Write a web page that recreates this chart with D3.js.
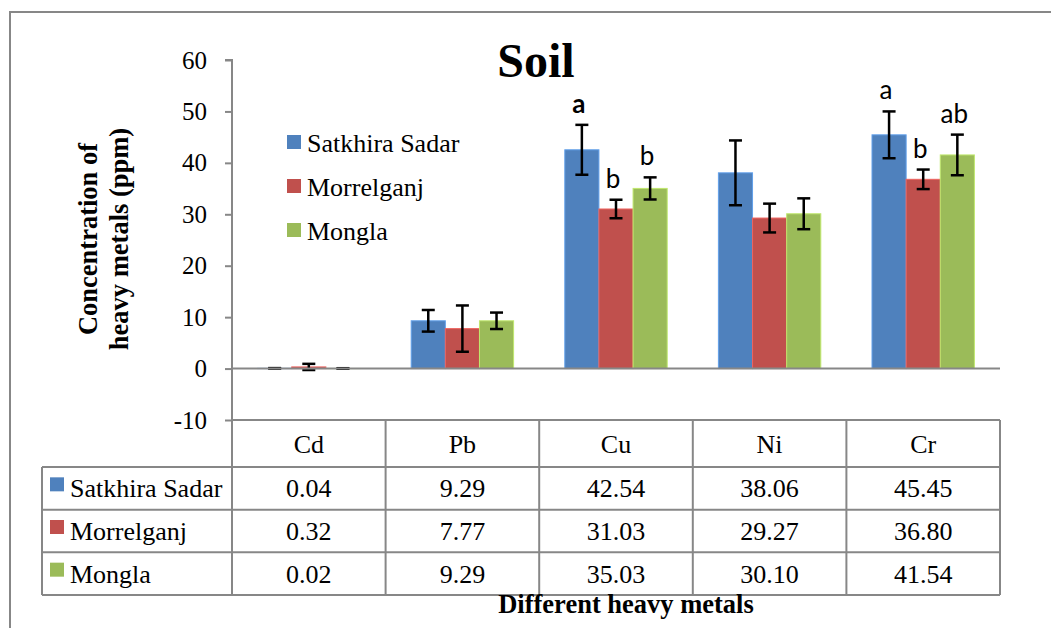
<!DOCTYPE html>
<html>
<head>
<meta charset="utf-8">
<script src="https://cdn.jsdelivr.net/npm/d3@7"></script>
<style>
  body { margin: 0; background: #fff; }
  svg { display: block; }
  .serif { font-family: "Liberation Serif", "Times New Roman", Times, serif; fill: #000; }
  .letter { font-family: Lato, "Open Sans", sans-serif; font-size: 26px; fill: #000; }
</style>
</head>
<body>
<div id="chart"></div>
<script>
// chart data
const metals = ["Cd", "Pb", "Cu", "Ni", "Cr"];
const sites = ["Satkhira Sadar", "Morrelganj", "Mongla"];
const siteColors = ["#4F81BD", "#C0504D", "#9BBB59"];

const satkhira = [0.04, 9.29, 42.54, 38.06, 45.45];
const morrelganj = [0.32, 7.77, 31.03, 29.27, 36.80];
const mongla = [0.02, 9.29, 35.03, 30.10, 41.54];

// error bar half-lengths
const satkhiraErr = [0.05, 2.1, 4.85, 6.3, 4.55];
const morrelganjErr = [0.6, 4.5, 1.8, 2.8, 1.9];
const monglaErr = [0.05, 1.6, 2.15, 3.0, 3.95];

// significance letters
const satkhiraLetters = ["", "", "a", "", "a"];
const morrelganjLetters = ["", "", "b", "", "b"];
const monglaLetters = ["", "", "b", "", "ab"];
const boldLetters = ["Cu-Satkhira Sadar"];

const yTicks = [-10, 0, 10, 20, 30, 40, 50, 60];

const values = [satkhira, morrelganj, mongla];
const errors = [satkhiraErr, morrelganjErr, monglaErr];
const letters = [satkhiraLetters, morrelganjLetters, monglaLetters];

const W = 1051, H = 628;
const gray = "#878787";

const svg = d3.select("#chart").append("svg")
    .attr("width", W)
    .attr("height", H);

// outer frame
svg.append("rect")
    .attr("x", 10).attr("y", 12)
    .attr("width", W + 20).attr("height", H + 20)
    .attr("fill", "none")
    .attr("stroke", gray)
    .attr("stroke-width", 2);

// scales
const x = d3.scaleBand()
    .domain(metals)
    .range([232, 1000]);

const xs = d3.scaleBand()
    .domain(sites)
    .range([x.bandwidth() / 6, x.bandwidth() * 5 / 6]);

const y = d3.scaleLinear()
    .domain([-10, 60])
    .range([420, 60]);

const color = d3.scaleOrdinal().domain(sites).range(siteColors);

// title
svg.append("text")
    .attr("class", "serif")
    .attr("x", 536)
    .attr("y", 77)
    .attr("text-anchor", "middle")
    .style("font-size", "48px")
    .style("font-weight", "bold")
    .text("Soil");

// y axis
const yAxis = d3.axisLeft(y)
    .tickValues(yTicks)
    .tickSize(7)
    .tickPadding(18)
    .tickFormat(d => String(d));

const gy = svg.append("g")
    .attr("transform", "translate(232,0)")
    .call(yAxis)
    .attr("font-family", null)
    .attr("font-size", null);
gy.select(".domain").attr("stroke", gray).attr("stroke-width", 2)
    .attr("d", `M-7,${y(60)}H0V${y(-10)}`);
gy.selectAll(".tick line").attr("stroke", gray).attr("stroke-width", 2);
gy.selectAll(".tick text")
    .attr("class", "serif")
    .style("font-size", "25px")
    .attr("fill", "#000");

// y axis title
const yTitle = svg.append("text")
    .attr("class", "serif")
    .attr("transform", "translate(0,239) rotate(-90)")
    .attr("text-anchor", "middle")
    .style("font-size", "26.5px")
    .style("font-weight", "bold");
yTitle.append("tspan").attr("x", 0).attr("y", 97).text("Concentration of");
yTitle.append("tspan").attr("x", 0).attr("y", 128).text("heavy metals (ppm)");

// bars
const rows = [];
metals.forEach((m, i) => {
    sites.forEach((s, j) => {
        rows.push({
            metal: m,
            site: s,
            value: values[j][i],
            err: errors[j][i],
            letter: letters[j][i]
        });
    });
});

const groups = svg.append("g");

groups.selectAll(".bar")
    .data(rows)
    .join("rect")
    .attr("class", "bar")
    .attr("x", d => x(d.metal) + xs(d.site))
    .attr("width", xs.bandwidth())
    .attr("y", d => y(Math.max(0, d.value)))
    .attr("height", d => Math.abs(y(0) - y(d.value)))
    .attr("fill", d => color(d.site))
    .attr("stroke", d => d3.color(color(d.site)).brighter(0.6))
    .attr("stroke-width", 1);

// zero line
svg.append("line")
    .attr("x1", 232).attr("x2", 1000)
    .attr("y1", y(0)).attr("y2", y(0))
    .attr("stroke", gray).attr("stroke-width", 2);

// error bars
const eb = groups.selectAll(".err")
    .data(rows)
    .join("g")
    .attr("class", "err")
    .attr("transform", d => `translate(${x(d.metal) + xs(d.site) + xs.bandwidth() / 2},0)`);

eb.append("line")
    .attr("y1", d => y(d.value + d.err))
    .attr("y2", d => y(d.value - d.err))
    .attr("stroke", "#000").attr("stroke-width", 2.5);
eb.append("line")
    .attr("x1", -6.5).attr("x2", 6.5)
    .attr("y1", d => y(d.value + d.err))
    .attr("y2", d => y(d.value + d.err))
    .attr("stroke", "#000").attr("stroke-width", 2.5);
eb.append("line")
    .attr("x1", -6.5).attr("x2", 6.5)
    .attr("y1", d => y(d.value - d.err))
    .attr("y2", d => y(d.value - d.err))
    .attr("stroke", "#000").attr("stroke-width", 2.5);

// letters
groups.selectAll(".letter")
    .data(rows.filter(d => d.letter))
    .join("text")
    .attr("class", "letter")
    .attr("x", d => x(d.metal) + xs(d.site) + xs.bandwidth() / 2 - 3)
    .attr("y", d => y(d.value + d.err) - 12)
    .attr("text-anchor", "middle")
    .style("font-weight", d => boldLetters.includes(d.metal + "-" + d.site) ? "bold" : "normal")
    .text(d => d.letter);

// legend inside plot
const legend = svg.append("g")
    .attr("transform", "translate(287,0)");
const legendY = d3.scalePoint().domain(sites).range([152, 240]);

legend.selectAll("rect")
    .data(sites)
    .join("rect")
    .attr("x", 0)
    .attr("y", d => legendY(d) - 17)
    .attr("width", 14).attr("height", 14)
    .attr("fill", d => color(d));

legend.selectAll("text")
    .data(sites)
    .join("text")
    .attr("class", "serif")
    .attr("x", 20)
    .attr("y", d => legendY(d))
    .style("font-size", "26px")
    .text(d => d);

// data table
const tableLeft = 42, tableRight = 1000;
const headTop = y(-10), headBottom = 467;
const rowY = d3.scaleBand().domain(sites).range([headBottom, 595]);
const fmt = d3.format(".2f");

const table = svg.append("g");

// header grid
table.append("line")
    .attr("x1", 232).attr("x2", tableRight)
    .attr("y1", headTop).attr("y2", headTop)
    .attr("stroke", gray).attr("stroke-width", 2);

const colEdges = [232].concat(metals.map(m => x(m) + x.bandwidth()));
table.selectAll(".vline")
    .data(colEdges)
    .join("line")
    .attr("class", "vline")
    .attr("x1", d => d).attr("x2", d => d)
    .attr("y1", headTop).attr("y2", 595)
    .attr("stroke", gray).attr("stroke-width", 2);

// body grid
table.selectAll(".hline")
    .data([headBottom].concat(sites.map(s => rowY(s) + rowY.bandwidth())))
    .join("line")
    .attr("class", "hline")
    .attr("x1", tableLeft).attr("x2", tableRight)
    .attr("y1", d => d).attr("y2", d => d)
    .attr("stroke", gray).attr("stroke-width", 2);

table.append("line")
    .attr("x1", tableLeft).attr("x2", tableLeft)
    .attr("y1", headBottom).attr("y2", 595)
    .attr("stroke", gray).attr("stroke-width", 2);

// header labels
table.selectAll(".head")
    .data(metals)
    .join("text")
    .attr("class", "serif head")
    .attr("x", d => x(d) + x.bandwidth() / 2)
    .attr("y", (headTop + headBottom) / 2 + 9)
    .attr("text-anchor", "middle")
    .style("font-size", "26px")
    .text(d => d);

// row keys
const rowG = table.selectAll(".row")
    .data(sites)
    .join("g")
    .attr("class", "row")
    .attr("transform", d => `translate(0,${rowY(d) + rowY.bandwidth() / 2})`);

rowG.append("rect")
    .attr("x", 50).attr("y", -11)
    .attr("width", 14).attr("height", 14)
    .attr("fill", d => color(d));

rowG.append("text")
    .attr("class", "serif")
    .attr("x", 70)
    .attr("y", 9)
    .style("font-size", "26px")
    .text(d => d);

rowG.selectAll(".val")
    .data((d, j) => metals.map((m, i) => ({ metal: m, value: values[j][i] })))
    .join("text")
    .attr("class", "serif val")
    .attr("x", d => x(d.metal) + x.bandwidth() / 2)
    .attr("y", 9)
    .attr("text-anchor", "middle")
    .style("font-size", "26px")
    .text(d => fmt(d.value));

// x axis title
svg.append("text")
    .attr("class", "serif")
    .attr("x", 626)
    .attr("y", 613)
    .attr("text-anchor", "middle")
    .style("font-size", "26.5px")
    .style("font-weight", "bold")
    .text("Different heavy metals");
</script>
</body>
</html>
